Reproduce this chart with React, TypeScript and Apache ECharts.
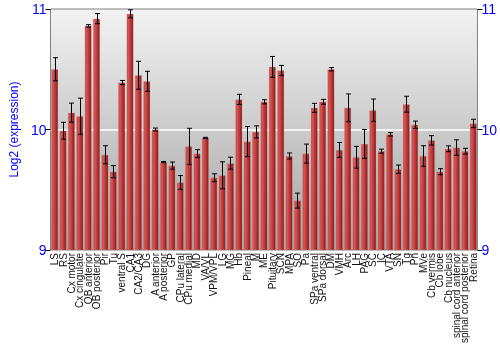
import React, { useEffect, useRef } from "react";
import * as echarts from "echarts";

const categories = [
  "LS", "RS", "Cx motor", "Cx cingulate", "OB anterior", "OB posterior", "Pir", "Tu",
  "ventral S", "CA1", "CA2/CA3", "DG", "A anterior", "A posterior", "GP", "CPu lateral",
  "CPu medial", "MD", "VA/VL", "VPM/VPL", "LG", "MG", "Hb", "Pineal", "M", "ME",
  "Pituitary", "SCN", "MPA", "SO", "Pa", "SPa ventral", "SPa dorsal", "DM", "VMH", "Arc",
  "LH", "PAG", "SC", "IC", "VTA", "SN", "Tg", "Pn", "MVe", "Cb vermis", "Cb lobe",
  "Cb nucleus", "spinal cord anterior", "spinal cord posterior", "Retina",
];

const values = [
  10.50, 9.99, 10.14, 10.11, 10.86, 10.92, 9.79, 9.65,
  10.39, 10.96, 10.45, 10.40, 10.00, 9.73, 9.70, 9.56,
  9.86, 9.80, 9.93, 9.60, 9.62, 9.72, 10.25, 9.90, 9.98, 10.23,
  10.52, 10.49, 9.78, 9.41, 9.80, 10.18, 10.23, 10.50, 9.83, 10.18,
  9.77, 9.88, 10.16, 9.82, 9.96, 9.67, 10.21, 10.04, 9.78, 9.91, 9.65,
  9.84, 9.85, 9.82, 10.05,
];

const errors = [
  0.096, 0.07, 0.079, 0.15, 0.01, 0.042, 0.075, 0.05,
  0.017, 0.033, 0.116, 0.083, 0.012, 0.005, 0.03, 0.058,
  0.15, 0.033, 0.005, 0.033, 0.112, 0.05, 0.042, 0.125, 0.05, 0.017,
  0.086, 0.042, 0.025, 0.062, 0.079, 0.037, 0.02, 0.014, 0.062, 0.115,
  0.09, 0.12, 0.093, 0.017, 0.014, 0.035, 0.066, 0.03, 0.085, 0.039, 0.025,
  0.024, 0.064, 0.024, 0.035,
];

const yTicks = [9, 10, 11];

export default function App() {
  const ref = useRef<HTMLDivElement>(null);

  useEffect(() => {
    if (!ref.current) return;
    const chart = echarts.init(ref.current, undefined, { renderer: "svg" });
    const font = "'Liberation Sans', Arial, sans-serif";
    const errData = values.map((v, i) => [i, v - errors[i], v + errors[i]]);
    const yAxisBase = {
      type: "value" as const,
      min: yTicks[0],
      max: yTicks[yTicks.length - 1],
      interval: 1,
      axisLine: { show: false },
      axisTick: { show: true, length: 5, lineStyle: { color: "#000", width: 1 } },
      axisLabel: { color: "#0000ff", fontSize: 14, fontFamily: font, margin: 4 },
    };
    chart.setOption({
      animation: false,
      textStyle: { fontFamily: font },
      grid: {
        left: 35,
        right: 20,
        top: 9,
        bottom: 100,
        show: true,
        borderColor: "#808080",
        borderWidth: 1,
        backgroundColor: new echarts.graphic.LinearGradient(0, 0, 0, 1, [
          { offset: 0, color: "#f3f3f3" },
          { offset: 1, color: "#a2a2a2" },
        ]),
      },
      xAxis: {
        type: "category",
        data: categories,
        axisLine: { show: false },
        axisTick: { show: false },
        axisLabel: {
          interval: 0,
          rotate: 90,
          fontSize: 10,
          color: "#111",
          margin: 3,
          fontFamily: font,
        },
      },
      yAxis: [
        {
          ...yAxisBase,
          position: "left",
          name: "Log2 (expression)",
          nameLocation: "middle",
          nameGap: 26,
          nameTextStyle: { color: "#0000ff", fontSize: 12, fontFamily: font },
          splitLine: {
            show: true,
            lineStyle: { color: ["rgba(0,0,0,0)", "#ffffff", "rgba(0,0,0,0)"], width: 1.5 },
          },
        },
        {
          ...yAxisBase,
          position: "right",
          splitLine: { show: false },
        },
      ],
      series: [
        {
          type: "bar",
          data: values,
          barCategoryGap: "18%",
          itemStyle: {
            color: new echarts.graphic.LinearGradient(0, 0, 1, 0, [
              { offset: 0, color: "#c44444" },
              { offset: 0.25, color: "#d45454" },
              { offset: 0.65, color: "#b83232" },
              { offset: 1, color: "#7c1c1c" },
            ]),
            borderColor: "rgba(230,150,150,0.5)",
            borderWidth: 0.5,
          },
          z: 2,
        },
        {
          type: "custom",
          data: errData,
          z: 3,
          renderItem: (params: any, api: any) => {
            const x = api.value(0);
            const lo = api.coord([x, api.value(1)]);
            const hi = api.coord([x, api.value(2)]);
            const cx = Math.round(lo[0]) + 0.5;
            const cap = 2.5;
            const style = { stroke: "#000", lineWidth: 1 };
            return {
              type: "group",
              children: [
                { type: "line", shape: { x1: cx, y1: lo[1], x2: cx, y2: hi[1] }, style },
                { type: "line", shape: { x1: cx - cap, y1: lo[1], x2: cx + cap, y2: lo[1] }, style },
                { type: "line", shape: { x1: cx - cap, y1: hi[1], x2: cx + cap, y2: hi[1] }, style },
              ],
            };
          },
        },
      ],
    });
    return () => chart.dispose();
  }, []);

  return (
    <div
      ref={ref}
      style={{ position: "fixed", left: 0, top: 0, width: 500, height: 350 }}
    />
  );
}
